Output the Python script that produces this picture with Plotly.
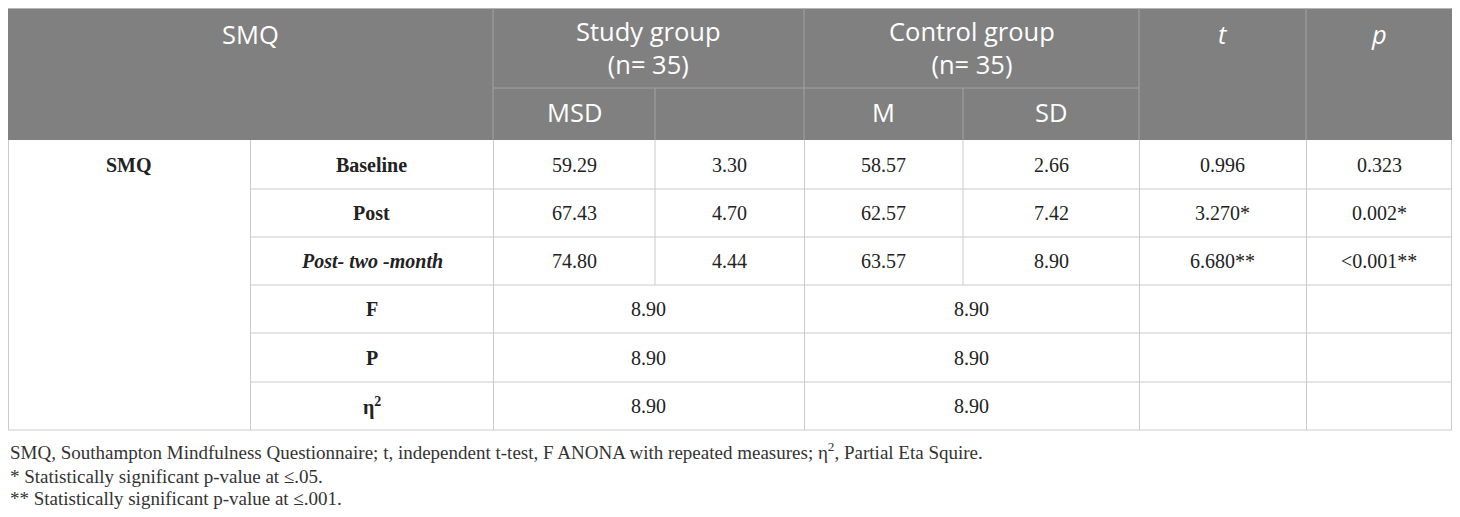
import plotly.graph_objects as go

# table content
stage_labels = ["<b>Baseline</b>", "<b>Post</b>", "<b><i>Post- two -month</i></b>"]
study_m = ["59.29", "67.43", "74.80"]
study_sd = ["3.30", "4.70", "4.44"]
control_m = ["58.57", "62.57", "63.57"]
control_sd = ["2.66", "7.42", "8.90"]
t_vals = ["0.996", "3.270*", "6.680**"]
p_vals = ["0.323", "0.002*", "<0.001**"]

stat_labels = ["<b>F</b>", "<b>P</b>", "<b>η<sup>2</sup></b>"]
stat_study = ["8.90", "8.90", "8.90"]
stat_control = ["8.90", "8.90", "8.90"]

group_names = ["Study group", "Control group"]
group_n = ["(n= 35)", "(n= 35)"]
sub_headers = ["MSD", "", "M", "SD"]

footnotes = [
    "SMQ, Southampton Mindfulness Questionnaire; t, independent t-test, "
    "F ANONA with repeated measures; η<sup>2</sup>, Partial Eta Squire.",
    "* Statistically significant p-value at ≤.05.",
    "** Statistically significant p-value at ≤.001.",
]

# grid layout in page pixels (the page body has an 8px margin,
# so the figure starts at 8,8 and the axes are shifted to match)
W, H = 1460, 517
PAD = 8
col_edges = [8, 250, 493, 655, 804, 963, 1139, 1306, 1452]
row_edges = [8, 88, 140, 189, 237, 285, 333, 382, 430]
note_y = [451, 476, 498]

HEAD_FILL = "#808080"
HEAD_LINE = "#a3a3a3"
BODY_LINE = "#cbcbcb"
head_font = dict(family="Open Sans", size=25.5, color="white")
body_font = dict(family="Liberation Serif", size=20, color="#222222")
note_font = dict(family="Liberation Serif", size=19, color="#333333")

fig = go.Figure()
shapes = []
annotations = []


def line(x0, y0, x1, y1, color):
    shapes.append(dict(type="line", x0=x0, y0=y0, x1=x1, y1=y1,
                       xref="x", yref="y", line=dict(color=color, width=1)))


def text(s, c0, c1, y, font):
    annotations.append(dict(
        x=(col_edges[c0] + col_edges[c1]) / 2, y=y, xref="x", yref="y",
        text=s, showarrow=False, xanchor="center", yanchor="middle",
        font=font))


def row_mid(r):
    return (row_edges[r] + row_edges[r + 1]) / 2


# header block
shapes.append(dict(type="rect", x0=col_edges[0], x1=col_edges[-1],
                   y0=row_edges[0], y1=row_edges[2], xref="x", yref="y",
                   fillcolor=HEAD_FILL, line=dict(width=0), layer="below"))
line(col_edges[0], row_edges[0] + 0.5, col_edges[-1], row_edges[0] + 0.5, "#b5b5b5")
for c in [2, 4, 6, 7]:
    line(col_edges[c], row_edges[0], col_edges[c], row_edges[2], HEAD_LINE)
for c in [3, 5]:
    line(col_edges[c], row_edges[1], col_edges[c], row_edges[2], HEAD_LINE)
line(col_edges[2], row_edges[1], col_edges[6], row_edges[1], HEAD_LINE)

top_y = 34
text("SMQ", 0, 2, top_y, head_font)
for i in range(2):
    text(group_names[i] + "<br>" + group_n[i], 2 + 2 * i, 4 + 2 * i,
         top_y + 13.5, head_font)
text("<i>t</i>", 6, 7, top_y, head_font)
text("<i>p</i>", 7, 8, top_y, head_font)
for i, s in enumerate(sub_headers):
    if s:
        text(s, 2 + i, 3 + i, 112, head_font)

# body grid
for c in [0, 1, 2, 4, 6, 7]:
    line(col_edges[c] + 0.5, row_edges[2], col_edges[c] + 0.5, row_edges[-1], BODY_LINE)
line(col_edges[-1] - 0.5, row_edges[2], col_edges[-1] - 0.5, row_edges[-1], BODY_LINE)
for c in [3, 5]:
    line(col_edges[c], row_edges[2], col_edges[c], row_edges[5], BODY_LINE)
for r in range(3, len(row_edges) - 1):
    line(col_edges[1], row_edges[r], col_edges[-1], row_edges[r], BODY_LINE)
line(col_edges[0], row_edges[-1], col_edges[-1], row_edges[-1], BODY_LINE)

text("<b>SMQ</b>", 0, 1, row_mid(2), body_font)
for i in range(len(stage_labels)):
    y = row_mid(2 + i)
    text(stage_labels[i], 1, 2, y, body_font)
    text(study_m[i], 2, 3, y, body_font)
    text(study_sd[i], 3, 4, y, body_font)
    text(control_m[i], 4, 5, y, body_font)
    text(control_sd[i], 5, 6, y, body_font)
    text(t_vals[i], 6, 7, y, body_font)
    text(p_vals[i], 7, 8, y, body_font)
for i in range(len(stat_labels)):
    y = row_mid(5 + i)
    text(stat_labels[i], 1, 2, y, body_font)
    text(stat_study[i], 2, 4, y, body_font)
    text(stat_control[i], 4, 6, y, body_font)

# notes under the table
for i, note in enumerate(footnotes):
    annotations.append(dict(
        x=col_edges[0], y=note_y[i], xref="x", yref="y",
        text=note, showarrow=False, xanchor="left", yanchor="middle",
        font=note_font))

fig.update_layout(
    width=W - PAD, height=H - PAD,
    margin=dict(l=0, r=0, t=0, b=0),
    paper_bgcolor="white", plot_bgcolor="white",
    xaxis=dict(range=[PAD, W], visible=False, fixedrange=True),
    yaxis=dict(range=[H, PAD], visible=False, fixedrange=True),
    shapes=shapes, annotations=annotations,
    showlegend=False,
)

fig.write_html("out.html")
